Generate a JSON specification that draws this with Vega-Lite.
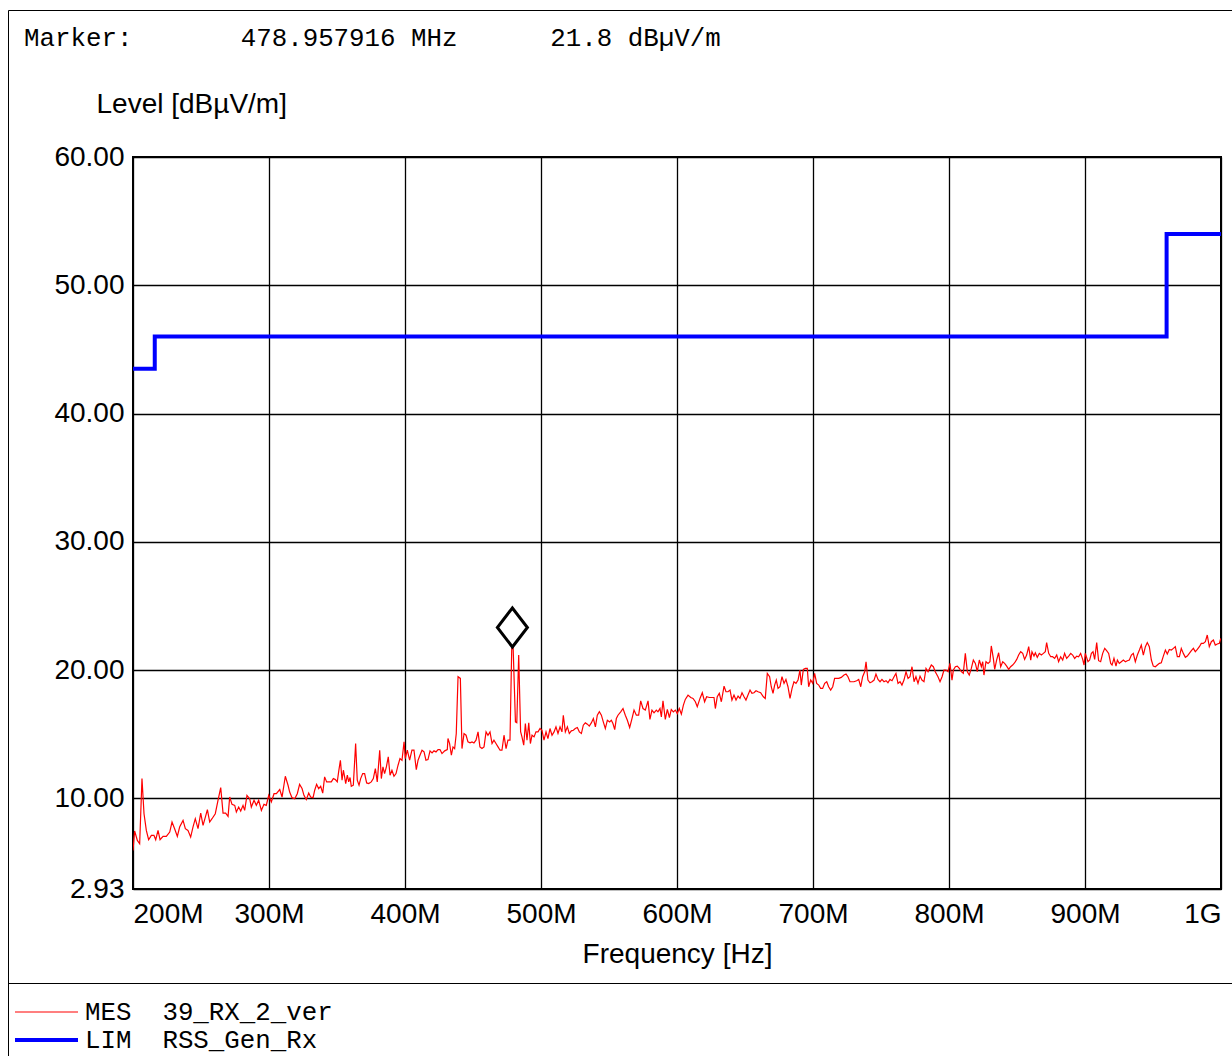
{
 "$schema": "https://vega.github.io/schema/vega-lite/v6.json",
 "width": 1088,
 "height": 732,
 "autosize": {"type": "none"},
 "padding": {"left": 133, "top": 157, "right": 11, "bottom": 167},
 "background": "white",
 "config": {
  "view": {"stroke": "black", "strokeWidth": 2},
  "font": "Liberation Sans",
  "axis": {"grid": true, "gridColor": "black", "gridWidth": 1.3, "gridOpacity": 1, "domain": false, "ticks": false,
   "labelFont": "Liberation Sans", "labelFontSize": 28, "labelColor": "black",
   "titleFont": "Liberation Sans", "titleFontSize": 28, "titleFontWeight": "normal", "titleColor": "black"}
 },
 "datasets": {
  "mes": [
{"f":200.0,"v":5.94},{"f":201.2,"v":7.45},{"f":203.2,"v":6.72},{"f":204.9,"v":6.46},{"f":206.6,"v":11.54},{"f":208.1,"v":8.80},{"f":209.8,"v":7.50},{"f":211.5,"v":6.77},{"f":213.5,"v":7.11},{"f":215.4,"v":7.11},{"f":216.7,"v":6.77},{"f":218.4,"v":7.50},{"f":219.9,"v":6.77},{"f":222.1,"v":7.03},{"f":224.5,"v":7.03},{"f":227.0,"v":7.37},{"f":228.7,"v":8.15},{"f":230.6,"v":7.63},{"f":232.6,"v":7.03},{"f":234.3,"v":7.76},{"f":236.8,"v":8.28},{"f":238.5,"v":7.63},{"f":240.4,"v":7.50},{"f":242.4,"v":6.98},{"f":244.1,"v":7.76},{"f":245.8,"v":8.41},{"f":247.8,"v":7.63},{"f":249.8,"v":8.85},{"f":251.5,"v":7.89},{"f":253.2,"v":8.54},{"f":254.7,"v":9.11},{"f":256.4,"v":8.15},{"f":258.1,"v":8.41},{"f":260.5,"v":8.80},{"f":262.5,"v":9.84},{"f":264.5,"v":10.83},{"f":266.2,"v":8.85},{"f":268.1,"v":8.85},{"f":269.9,"v":8.59},{"f":271.1,"v":10.10},{"f":272.8,"v":9.53},{"f":274.8,"v":9.45},{"f":276.0,"v":8.93},{"f":277.7,"v":9.32},{"f":279.2,"v":9.01},{"f":280.9,"v":9.45},{"f":282.1,"v":9.06},{"f":283.8,"v":10.23},{"f":285.8,"v":9.97},{"f":287.0,"v":9.32},{"f":289.0,"v":9.84},{"f":290.7,"v":9.45},{"f":292.4,"v":9.84},{"f":294.4,"v":9.06},{"f":296.3,"v":9.53},{"f":298.0,"v":9.45},{"f":299.8,"v":10.23},{"f":301.7,"v":9.71},{"f":303.7,"v":10.36},{"f":305.4,"v":10.36},{"f":307.9,"v":10.68},{"f":309.6,"v":10.10},{"f":312.0,"v":11.72},
{"f":314.0,"v":11.02},{"f":315.2,"v":10.49},{"f":316.9,"v":10.05},{"f":318.9,"v":9.97},{"f":320.8,"v":10.36},{"f":322.5,"v":11.09},{"f":324.3,"v":10.76},{"f":325.7,"v":10.23},{"f":327.4,"v":9.90},{"f":329.2,"v":10.41},{"f":330.6,"v":10.10},{"f":332.4,"v":10.05},{"f":333.6,"v":10.63},{"f":335.0,"v":11.09},{"f":336.5,"v":10.76},{"f":338.0,"v":10.94},{"f":339.5,"v":10.41},{"f":340.9,"v":11.67},{"f":342.4,"v":11.28},{"f":343.9,"v":11.28},{"f":345.8,"v":11.28},{"f":347.3,"v":11.54},{"f":348.8,"v":11.46},{"f":350.2,"v":11.28},{"f":351.2,"v":12.06},{"f":352.5,"v":12.97},{"f":353.7,"v":11.41},{"f":354.7,"v":12.19},{"f":355.6,"v":11.67},{"f":356.4,"v":11.15},{"f":357.6,"v":11.80},{"f":358.6,"v":11.28},{"f":359.6,"v":11.62},{"f":360.5,"v":10.94},{"f":362.0,"v":11.02},{"f":363.7,"v":14.27},{"f":364.9,"v":11.41},{"f":366.2,"v":11.02},{"f":367.4,"v":11.54},{"f":368.9,"v":11.93},{"f":370.3,"v":11.93},{"f":371.8,"v":11.20},{"f":373.3,"v":11.15},{"f":375.2,"v":11.28},{"f":376.7,"v":11.54},{"f":378.2,"v":12.32},{"f":379.6,"v":11.28},{"f":381.4,"v":13.75},{"f":382.6,"v":11.54},{"f":383.8,"v":12.45},{"f":385.0,"v":11.93},{"f":386.3,"v":12.45},{"f":387.7,"v":13.23},{"f":389.0,"v":11.80},{"f":390.4,"v":12.19},{"f":391.9,"v":11.72},{"f":393.4,"v":11.93},{"f":394.9,"v":12.58},{"f":396.3,"v":13.10},{"f":397.8,"v":12.97},{"f":399.3,"v":14.40},{"f":400.2,"v":13.10},{"f":401.7,"v":13.75},{"f":403.4,"v":12.97},{"f":405.1,"v":13.75},{"f":406.6,"v":13.75},{"f":408.3,"v":12.24},{"f":409.6,"v":12.97},{"f":411.0,"v":13.36},{"f":412.5,"v":13.75},{"f":414.0,"v":13.62},{"f":415.4,"v":12.97},{"f":416.9,"v":13.02},{"f":418.4,"v":13.70},{"f":419.9,"v":13.54},{"f":421.3,"v":13.70},{"f":422.8,"v":13.62},{"f":424.3,"v":13.80},{"f":425.7,"v":13.80},{"f":427.2,"v":13.49},{"f":429.2,"v":13.70},{"f":431.1,"v":13.80},
{"f":431.6,"v":14.66},{"f":432.8,"v":14.27},{"f":434.1,"v":13.36},{"f":435.3,"v":14.01},{"f":436.5,"v":13.88},{"f":437.7,"v":15.05},{"f":439.0,"v":19.48},{"f":440.7,"v":19.35},{"f":441.9,"v":13.88},{"f":443.4,"v":15.05},{"f":444.9,"v":14.92},{"f":446.3,"v":14.40},{"f":447.8,"v":14.32},{"f":449.3,"v":14.40},{"f":450.7,"v":14.32},{"f":452.2,"v":14.53},{"f":453.7,"v":15.18},{"f":455.1,"v":14.01},{"f":456.6,"v":13.88},{"f":458.1,"v":14.01},{"f":459.6,"v":15.18},{"f":461.0,"v":14.92},{"f":462.5,"v":15.18},{"f":464.0,"v":14.27},{"f":465.4,"v":14.53},{"f":466.9,"v":14.27},{"f":468.4,"v":14.01},{"f":469.9,"v":13.75},{"f":471.3,"v":13.75},{"f":472.8,"v":14.92},{"f":474.3,"v":13.88},{"f":475.7,"v":14.53},{"f":477.2,"v":14.53},{"f":478.5,"v":21.82},{"f":479.5,"v":21.8},{"f":481.2,"v":15.96},{"f":482.2,"v":15.9},{"f":483.6,"v":21.17},{"f":485.0,"v":15.2},{"f":486.0,"v":14.79},{"f":487.3,"v":14.14},{"f":488.5,"v":15.83},{"f":489.7,"v":14.53},{"f":491.0,"v":15.88},{"f":492.2,"v":14.27},{"f":493.4,"v":14.92},{"f":494.9,"v":14.79},{"f":496.3,"v":15.18},{"f":497.8,"v":15.18},{"f":499.3,"v":15.44},{"f":500.7,"v":15.31},{"f":502.2,"v":14.53},{"f":503.7,"v":15.18},{"f":505.1,"v":14.66},{"f":506.6,"v":15.44},{"f":508.1,"v":14.92},{"f":509.6,"v":15.18},{"f":511.0,"v":15.57},{"f":512.5,"v":15.05},{"f":514.0,"v":15.57},{"f":515.4,"v":15.18},{"f":516.4,"v":16.48},{"f":517.9,"v":15.18},{"f":519.4,"v":15.57},{"f":520.8,"v":15.05},{"f":522.3,"v":15.26},{"f":523.8,"v":15.31},{"f":525.2,"v":15.44},{"f":526.7,"v":15.52},{"f":528.2,"v":15.18},{"f":529.7,"v":15.05},{"f":531.1,"v":15.70},{"f":532.6,"v":15.88},{"f":534.1,"v":15.78},{"f":535.5,"v":15.63},{"f":537.0,"v":15.88},{"f":538.5,"v":16.22},{"f":540.0,"v":15.57},{"f":541.4,"v":16.48},{"f":542.9,"v":16.75},{"f":544.4,"v":16.48},{"f":545.8,"v":15.96},{"f":547.3,"v":15.44},{"f":548.8,"v":16.09},
{"f":550.5,"v":15.96},{"f":551.7,"v":16.09},{"f":552.9,"v":15.83},{"f":554.2,"v":15.36},{"f":555.4,"v":16.22},{"f":556.6,"v":16.48},{"f":558.6,"v":16.74},{"f":560.3,"v":17.00},{"f":562.0,"v":16.48},{"f":563.5,"v":16.09},{"f":565.2,"v":15.52},{"f":566.9,"v":16.22},{"f":568.4,"v":16.88},{"f":570.1,"v":16.48},{"f":571.8,"v":16.48},{"f":573.3,"v":17.60},{"f":575.0,"v":17.00},{"f":576.7,"v":16.88},{"f":578.7,"v":17.60},{"f":580.1,"v":16.15},{"f":581.6,"v":16.88},{"f":583.1,"v":16.67},{"f":584.8,"v":16.88},{"f":586.0,"v":16.74},{"f":587.5,"v":17.00},{"f":588.5,"v":16.35},{"f":589.7,"v":17.60},{"f":591.4,"v":16.15},{"f":592.9,"v":16.93},{"f":594.4,"v":16.30},{"f":595.8,"v":16.93},{"f":597.3,"v":16.74},{"f":598.8,"v":16.88},{"f":600.2,"v":16.61},{"f":601.7,"v":17.00},{"f":603.2,"v":16.56},{"f":604.7,"v":17.27},{"f":606.1,"v":17.71},{"f":608.1,"v":18.05},{"f":610.1,"v":17.86},{"f":611.8,"v":17.79},{"f":613.5,"v":17.53},{"f":614.9,"v":17.14},{"f":616.9,"v":17.79},{"f":618.6,"v":18.23},{"f":620.3,"v":17.53},{"f":621.8,"v":17.92},{"f":623.8,"v":17.86},{"f":625.7,"v":17.86},{"f":627.2,"v":17.86},{"f":628.2,"v":17.00},{"f":629.6,"v":17.92},{"f":631.1,"v":18.18},{"f":632.6,"v":17.53},{"f":634.6,"v":18.75},{"f":636.0,"v":18.31},{"f":637.5,"v":18.31},{"f":639.0,"v":18.44},{"f":640.4,"v":17.66},{"f":641.9,"v":18.05},{"f":643.4,"v":17.66},{"f":644.9,"v":17.97},{"f":646.3,"v":17.79},{"f":647.8,"v":18.23},{"f":649.3,"v":17.92},{"f":650.7,"v":17.66},{"f":652.2,"v":18.05},{"f":653.7,"v":18.44},{"f":655.1,"v":18.18},{"f":656.6,"v":18.23},{"f":658.1,"v":18.39},{"f":659.6,"v":18.31},{"f":661.5,"v":18.23},{"f":663.5,"v":17.92},{"f":664.9,"v":17.79},{"f":666.4,"v":19.74},
{"f":668.1,"v":19.48},{"f":669.3,"v":18.70},{"f":670.6,"v":18.18},{"f":671.8,"v":18.83},{"f":673.0,"v":19.22},{"f":674.3,"v":18.57},{"f":675.7,"v":18.70},{"f":677.2,"v":19.48},{"f":678.7,"v":18.96},{"f":680.1,"v":19.27},{"f":681.6,"v":18.70},{"f":683.1,"v":17.79},{"f":684.6,"v":18.57},{"f":686.0,"v":19.09},{"f":687.5,"v":18.96},{"f":689.0,"v":19.22},{"f":690.4,"v":20.00},{"f":691.4,"v":18.83},{"f":692.9,"v":20.05},{"f":694.4,"v":20.13},{"f":695.8,"v":20.13},{"f":696.8,"v":18.70},{"f":698.3,"v":19.22},{"f":699.8,"v":18.96},{"f":701.2,"v":19.74},{"f":702.7,"v":18.96},{"f":704.2,"v":18.83},{"f":705.6,"v":18.57},{"f":707.1,"v":18.57},{"f":708.6,"v":18.96},{"f":710.1,"v":19.09},{"f":711.5,"v":18.70},{"f":713.0,"v":18.44},{"f":714.5,"v":18.70},{"f":715.9,"v":19.35},{"f":717.4,"v":19.35},{"f":718.9,"v":19.35},{"f":720.8,"v":19.43},{"f":722.8,"v":19.61},{"f":724.3,"v":19.69},{"f":725.7,"v":19.48},{"f":727.2,"v":19.09},{"f":728.7,"v":19.09},{"f":730.1,"v":19.09},{"f":732.1,"v":19.17},{"f":733.6,"v":19.27},{"f":735.1,"v":18.70},{"f":736.5,"v":19.48},{"f":738.0,"v":19.87},{"f":739.0,"v":20.65},{"f":740.4,"v":19.22},{"f":741.9,"v":19.01},{"f":743.4,"v":19.09},{"f":744.9,"v":19.22},{"f":746.3,"v":19.69},{"f":747.8,"v":19.27},{"f":749.3,"v":19.09},{"f":750.7,"v":19.27},{"f":752.2,"v":19.09},{"f":753.7,"v":19.17},{"f":755.1,"v":19.01},{"f":756.6,"v":19.27},{"f":758.1,"v":19.17},{"f":759.6,"v":19.48},{"f":761.0,"v":19.74},{"f":762.5,"v":18.96},{"f":764.0,"v":19.09},{"f":765.4,"v":18.83},{"f":766.9,"v":19.22},{"f":768.4,"v":19.87},{"f":769.9,"v":19.35},{"f":771.3,"v":19.48},{"f":772.8,"v":20.26},{"f":774.3,"v":19.09},{"f":775.7,"v":19.48},{"f":777.2,"v":18.96},{"f":778.7,"v":19.53},{"f":780.1,"v":19.22},{"f":781.6,"v":19.09},{"f":783.1,"v":20.13},
{"f":784.6,"v":19.87},{"f":785.8,"v":20.13},{"f":787.0,"v":20.39},{"f":788.5,"v":20.26},{"f":789.9,"v":19.87},{"f":791.9,"v":19.48},{"f":793.4,"v":19.09},{"f":794.9,"v":19.48},{"f":796.3,"v":20.00},{"f":797.8,"v":20.00},{"f":799.3,"v":19.87},{"f":800.7,"v":20.52},{"f":802.2,"v":19.22},{"f":803.2,"v":20.00},{"f":804.7,"v":20.26},{"f":806.1,"v":20.31},{"f":807.6,"v":20.13},{"f":809.1,"v":19.87},{"f":810.5,"v":19.74},{"f":812.0,"v":21.30},{"f":813.5,"v":19.87},{"f":814.9,"v":19.61},{"f":816.4,"v":20.13},{"f":817.9,"v":20.78},{"f":819.4,"v":20.52},{"f":820.8,"v":19.87},{"f":822.3,"v":20.78},{"f":823.8,"v":20.26},{"f":824.8,"v":20.65},{"f":825.7,"v":19.61},{"f":827.2,"v":20.65},{"f":828.7,"v":20.52},{"f":830.1,"v":20.65},{"f":831.1,"v":21.88},{"f":832.6,"v":20.91},{"f":833.6,"v":20.05},{"f":835.0,"v":20.78},{"f":836.5,"v":21.35},{"f":838.0,"v":20.26},{"f":839.5,"v":20.65},{"f":840.9,"v":20.52},{"f":842.4,"v":20.31},{"f":843.9,"v":20.05},{"f":845.3,"v":20.26},{"f":846.8,"v":20.39},{"f":848.3,"v":20.57},{"f":849.8,"v":20.83},{"f":851.2,"v":21.17},{"f":852.7,"v":21.43},{"f":854.2,"v":21.30},{"f":855.6,"v":20.83},{"f":857.1,"v":21.17},{"f":858.6,"v":21.82},{"f":860.1,"v":20.78},{"f":861.0,"v":21.43},{"f":862.5,"v":21.09},{"f":863.5,"v":21.35},{"f":864.9,"v":20.99},{"f":866.4,"v":21.30},{"f":867.9,"v":21.17},{"f":869.4,"v":21.30},{"f":870.8,"v":21.43},{"f":871.8,"v":22.14},{"f":873.3,"v":21.30},{"f":874.8,"v":21.04},{"f":876.2,"v":21.04},{"f":877.7,"v":20.91},{"f":879.2,"v":21.17},{"f":880.6,"v":20.65},{"f":882.1,"v":21.04},{"f":883.6,"v":20.78},{"f":885.0,"v":21.30},{"f":886.5,"v":20.91},{"f":888.0,"v":21.09},{"f":889.5,"v":21.30},{"f":890.9,"v":21.17},{"f":892.4,"v":20.91},{"f":893.9,"v":21.09},{"f":895.3,"v":21.04},{"f":896.8,"v":21.30},{"f":898.3,"v":20.83},{"f":899.3,"v":20.39},{"f":900.2,"v":21.30},
{"f":902.2,"v":20.65},{"f":903.4,"v":20.78},{"f":904.7,"v":21.30},{"f":905.9,"v":21.43},{"f":907.1,"v":20.83},{"f":908.6,"v":22.14},{"f":910.0,"v":20.73},{"f":911.5,"v":20.65},{"f":913.0,"v":21.30},{"f":914.5,"v":21.69},{"f":915.9,"v":21.51},{"f":917.4,"v":21.30},{"f":918.9,"v":20.52},{"f":919.9,"v":20.39},{"f":921.3,"v":20.91},{"f":922.8,"v":20.31},{"f":923.8,"v":20.78},{"f":925.2,"v":20.52},{"f":926.7,"v":20.65},{"f":928.2,"v":20.78},{"f":929.7,"v":20.65},{"f":931.1,"v":20.73},{"f":932.6,"v":20.78},{"f":934.1,"v":21.17},{"f":935.5,"v":21.30},{"f":937.0,"v":20.65},{"f":938.5,"v":21.17},{"f":940.0,"v":21.56},{"f":941.4,"v":21.95},{"f":942.9,"v":21.17},{"f":944.4,"v":21.82},{"f":945.8,"v":22.14},{"f":947.3,"v":21.82},{"f":948.8,"v":20.78},{"f":950.2,"v":20.31},{"f":951.7,"v":20.26},{"f":953.2,"v":20.39},{"f":954.7,"v":20.52},{"f":956.1,"v":20.57},{"f":957.6,"v":21.09},{"f":959.1,"v":21.56},{"f":960.5,"v":21.25},{"f":962.0,"v":21.61},{"f":963.5,"v":21.56},{"f":965.0,"v":21.69},{"f":966.4,"v":21.82},{"f":967.9,"v":21.04},{"f":969.4,"v":21.04},{"f":970.8,"v":21.69},{"f":972.3,"v":21.30},{"f":973.8,"v":20.99},{"f":975.2,"v":21.09},{"f":976.7,"v":21.30},{"f":978.2,"v":21.51},{"f":979.7,"v":21.69},{"f":981.1,"v":21.43},{"f":982.6,"v":21.61},{"f":984.1,"v":21.82},{"f":985.5,"v":22.08},{"f":987.0,"v":22.08},{"f":988.5,"v":22.21},{"f":989.9,"v":22.73},{"f":991.4,"v":21.82},{"f":992.9,"v":22.21},{"f":994.4,"v":22.34},{"f":995.8,"v":21.95},{"f":997.3,"v":22.03},{"f":998.8,"v":22.08},{"f":999.8,"v":22.47}
  ],
  "lim": [{"f":200,"v":43.5},{"f":216,"v":46},{"f":960,"v":54},{"f":1000,"v":54}],
  "mk": [{"f":478.957916,"v":21.8}]
 },
 "encoding": {
  "x": {"field": "f", "type": "quantitative",
   "scale": {"domain": [200, 1000], "nice": false, "zero": false},
   "axis": {"title": "Frequency [Hz]", "values": [200,300,400,500,600,700,800,900,1000],
    "labelExpr": "datum.value >= 1000 ? '1G' : datum.value + 'M'",
    "labelFlush": true, "labelPadding": 11, "labelBaseline": "top",
    "titleBaseline": "alphabetic", "titleY": 73}},
  "y": {"field": "v", "type": "quantitative",
   "scale": {"domain": [2.93, 60], "nice": false, "zero": false},
   "axis": {"title": "Level [dBµV/m]", "values": [2.93,10,20,30,40,50,60], "format": ".2f",
    "labelPadding": 9, "labelFlush": false, "titleAngle": 0, "titleAlign": "left", "titleBaseline": "alphabetic",
    "titleX": -37, "titleY": -45}}
 },
 "layer": [
  {"data": {"name": "mes"},
   "mark": {"type": "line", "clip": true},
   "encoding": {
    "color": {"datum": "MES", "type": "nominal",
     "scale": {"domain": ["MES","LIM"], "range": ["#ff0000","#0000ff"]},
     "legend": {"title": null, "orient": "none", "legendX": -120, "legendY": 842, "padding": 0,
      "symbolType": "stroke", "symbolSize": 3969, "symbolOffset": 0,
      "labelOffset": 5, "clipHeight": 26, "rowPadding": 2,
      "labelFont": "Liberation Mono", "labelFontSize": 25.8, "labelColor": "black", "labelLimit": 1000,
      "labelExpr": "datum.value == 'MES' ? 'MES\u00a0\u00a039_RX_2_ver' : 'LIM\u00a0\u00a0RSS_Gen_Rx'"}},
    "strokeWidth": {"datum": "MES", "type": "ordinal",
     "scale": {"type": "point", "domain": ["MES","LIM"], "range": [1.2, 4], "padding": 0}}
   }},
  {"data": {"name": "lim"},
   "mark": {"type": "line", "interpolate": "step-after", "clip": true},
   "encoding": {
    "color": {"datum": "LIM", "type": "nominal"},
    "strokeWidth": {"datum": "LIM", "type": "ordinal"},
    "strokeDash": {"datum": "bottom", "type": "nominal",
     "scale": {"domain": ["bottom"], "range": [[1, 0]]},
     "legend": {"title": null, "orient": "none", "legendX": -125, "legendY": 826, "padding": 40, "strokeColor": "black",
      "symbolType": "stroke", "symbolSize": 1690000, "symbolOpacity": 0, "symbolStrokeWidth": 0,
      "labelExpr": "''", "clipHeight": 1}}
   }},
  {"data": {"name": "mk"},
   "mark": {"type": "point", "shape": "M0,0L0.77,-1L0,-2L-0.77,-1Z", "filled": false, "stroke": "black", "strokeWidth": 3, "size": 1521},
   "encoding": {
    "opacity": {"datum": "top", "type": "ordinal",
     "scale": {"type": "point", "domain": ["top"], "range": [1, 1]},
     "legend": {"title": "Marker:\u00a0\u00a0\u00a0\u00a0\u00a0\u00a0\u00a0478.957916\u00a0MHz\u00a0\u00a0\u00a0\u00a0\u00a0\u00a021.8\u00a0dBµV/m",
      "orient": "none", "legendX": -125, "legendY": -147, "padding": 16, "strokeColor": "black",
      "titleFont": "Liberation Mono", "titleFontSize": 25.8, "titleFontWeight": "normal", "titleColor": "black",
      "titleLimit": 3000, "titlePadding": 1100, "symbolType": "stroke", "symbolSize": 1690000,
      "symbolOpacity": 0, "symbolStrokeWidth": 0, "labelExpr": "''", "clipHeight": 1}}
   }}
 ]
}
